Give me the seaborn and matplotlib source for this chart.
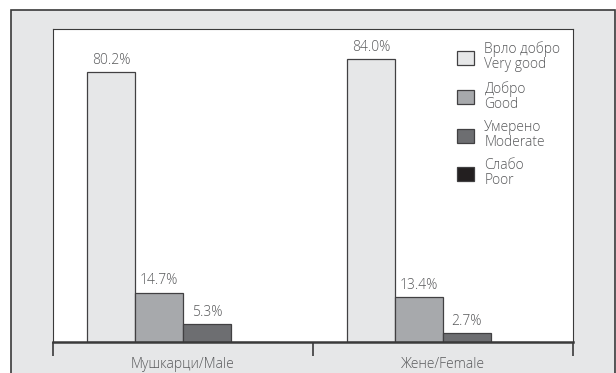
import pandas as pd
import seaborn as sns
import matplotlib.pyplot as plt
from matplotlib.patches import Rectangle

groups = ["Мушкарци/Male", "Жене/Female"]
ratings = ["Врло добро\nVery good", "Добро\nGood", "Умерено\nModerate", "Слабо\nPoor"]
male_pct = [80.2, 14.7, 5.3, 0.0]
female_pct = [84.0, 13.4, 2.7, 0.0]
colors = ["#e6e7e8", "#a7a9ac", "#6d6e71", "#231f20"]

sns.set_style("white")
plt.rcParams["font.family"] = ["Open Sans", "DejaVu Sans"]
plt.rcParams["font.weight"] = "light"
text_col = "#58595b"

df = pd.DataFrame({
    "group": [groups[0]] * 4 + [groups[1]] * 4,
    "rating": ratings * 2,
    "pct": male_pct + female_pct,
})

W, H = 616, 373
fig = plt.figure(figsize=(W / 100, H / 100), dpi=100)
fig.patch.set_facecolor("white")
# outer panel
fig.patches.append(Rectangle((11 / W, -0.05), (615 - 11) / W, 1.05 - 10 / H,
                             transform=fig.transFigure, facecolor="#e6e7e8",
                             edgecolor="#3a3a3a", linewidth=1.2, zorder=-5))

ax = fig.add_axes([53 / W, 1 - 342 / H, 520 / W, 313 / H])
ax.set_zorder(5)
ax.set_facecolor("white")
sns.barplot(data=df, x="group", y="pct", hue="rating", order=groups,
            hue_order=ratings, palette=colors, width=0.735, saturation=1,
            edgecolor="#414042", linewidth=0.9, ax=ax)

for cont in ax.containers:
    labels = [f"{v:.1f}%" if v > 0 else "" for v in cont.datavalues]
    ax.bar_label(cont, labels=labels, padding=3, fontsize=10, color=text_col)

ax.set_ylim(0, 93)
ax.set_xlim(-0.5, 1.5)
ax.set_yticks([])
ax.set_xlabel("")
ax.set_ylabel("")
ax.set_xticks([0, 1])
ax.set_xticklabels(groups, fontsize=10, color=text_col)
ax.tick_params(axis="x", which="major", bottom=True, length=0, pad=11)
ax.set_xticks([-0.5, 0.5, 1.5], minor=True)
ax.tick_params(axis="x", which="minor", bottom=True, length=10, width=1.2,
               color="#3a3a3a")

for side in ["left", "top", "right"]:
    ax.spines[side].set_color("#3a3a3a")
    ax.spines[side].set_linewidth(0.8)
ax.spines["bottom"].set_color("#3a3a3a")
ax.spines["bottom"].set_linewidth(1.8)

leg = ax.legend(loc="upper left", bbox_to_anchor=(0.777, 0.96), frameon=False,
                fontsize=10, handlelength=1.22, handleheight=1.22,
                labelspacing=0.6, handletextpad=0.75, borderaxespad=0,
                borderpad=0)
for t in leg.get_texts():
    t.set_color(text_col)
    t.set_linespacing(1.0)

fig.savefig("out.png", dpi=100)
